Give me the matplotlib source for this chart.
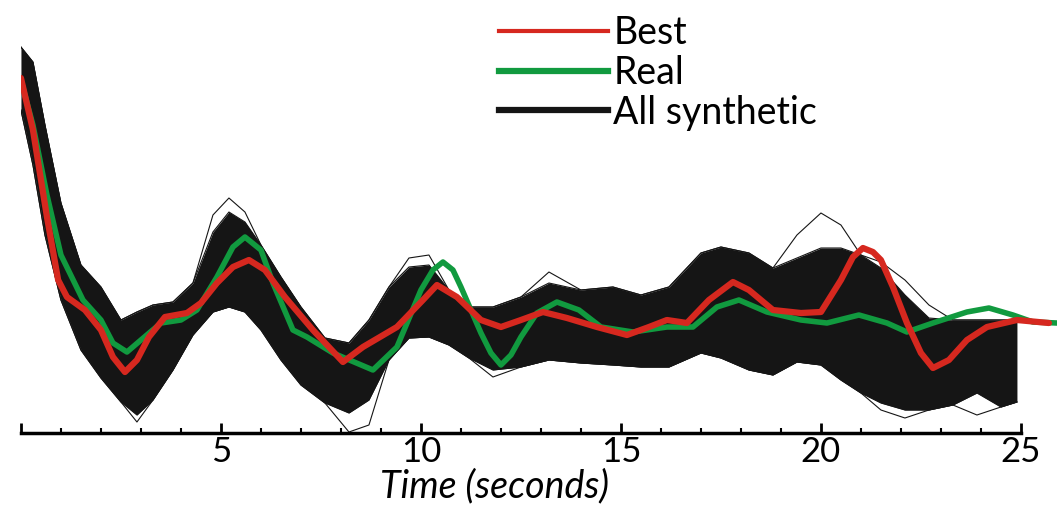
"""Synthetic vs real vs best-fit traces -> out.png"""
import matplotlib
matplotlib.use("Agg")
import matplotlib.pyplot as plt
import matplotlib.ticker as mticker

plt.rcParams["font.family"] = ["Lato", "DejaVu Sans"]

# ── data (amplitude, arbitrary units; time in seconds) ─────────────
best_t = [0, 0.3, 0.65, 0.93, 1.15, 1.6, 2.0, 2.3, 2.6, 2.9,
          3.2, 3.6, 4.15, 4.5, 4.9, 5.3, 5.7, 6.1, 6.6, 7.3,
          8.05, 8.55, 9.4, 10.05, 10.4, 10.9, 11.5, 12.0, 12.5, 13.05,
          13.65, 14.4, 15.15, 15.7, 16.15, 16.65, 17.2, 17.8, 18.2, 18.8,
          19.5, 20.0, 20.5, 20.8, 21.05, 21.3, 21.5, 21.8, 22.15, 22.5,
          22.8, 23.2, 23.65, 24.15, 24.9, 25.7]
best = [355, 303, 216, 153, 136, 123, 103, 76, 61, 73,
        96, 116, 120, 130, 150, 166, 173, 163, 136, 103,
        71, 86, 106, 133, 148, 136, 113, 106, 113, 121,
        115, 106, 98, 106, 113, 110, 133, 151, 143, 123,
        120, 121, 153, 176, 185, 181, 173, 146, 110, 80,
        65, 73, 93, 106, 113, 110]

real_t = [0, 0.3, 0.65, 1.0, 1.55, 2.0, 2.3, 2.65, 3.0, 3.5,
          4.0, 4.4, 4.9, 5.3, 5.6, 6.0, 6.3, 6.8, 7.15, 7.8,
          8.8, 9.4, 10.0, 10.3, 10.55, 10.8, 11.0, 11.5, 11.75, 12.0,
          12.25, 12.5, 12.9, 13.4, 13.95, 14.5, 15.3, 16.15, 16.8, 17.4,
          17.95, 18.65, 19.5, 20.15, 20.95, 21.65, 22.15, 22.8, 23.65, 24.2,
          24.8, 25.3, 25.9]
real = [353, 308, 238, 178, 133, 113, 90, 81, 93, 110,
        113, 123, 156, 186, 196, 183, 150, 103, 96, 80,
        63, 86, 143, 163, 171, 163, 146, 100, 80, 68,
        78, 96, 120, 131, 123, 106, 101, 106, 106, 126,
        133, 121, 113, 110, 118, 110, 101, 110, 121, 125,
        118, 111, 110]

# envelope of all synthetic traces
synth_t = [0, 0.3, 0.6, 1.0, 1.5, 2.0, 2.5, 2.9, 3.3, 3.8,
           4.3, 4.8, 5.2, 5.6, 6.0, 6.5, 7.0, 7.6, 8.2, 8.7,
           9.2, 9.7, 10.2, 10.7, 11.2, 11.8, 12.5, 13.2, 14.0, 14.8,
           15.5, 16.2, 17.0, 17.5, 18.2, 18.8, 19.4, 20.0, 20.5, 21.0,
           21.5, 22.1, 22.7, 23.3, 23.9, 24.5, 24.9]
synth_upper = [386, 371, 308, 230, 168, 146, 113, 121, 128, 131,
               150, 201, 221, 211, 188, 156, 126, 95, 90, 113,
               146, 166, 168, 143, 126, 126, 136, 150, 143, 146,
               138, 146, 180, 186, 180, 165, 175, 185, 185, 178,
               165, 138, 115, 113, 113, 113, 113]
synth_lower = [323, 268, 198, 133, 83, 55, 31, 18, 33, 63,
               98, 121, 126, 121, 103, 73, 48, 30, 20, 33,
               73, 95, 96, 88, 75, 63, 66, 73, 70, 68,
               66, 66, 80, 75, 63, 58, 71, 68, 53, 40,
               30, 23, 23, 28, 40, 26, 31]
# stray synthetic traces poking out of the band
synth_high = [386, 371, 308, 230, 168, 146, 113, 121, 128, 131,
              150, 218, 235, 221, 188, 156, 126, 95, 90, 113,
              146, 175, 178, 143, 126, 126, 136, 161, 143, 146,
              138, 146, 180, 186, 180, 165, 198, 220, 208, 178,
              171, 153, 128, 113, 113, 113, 113]
synth_low = [323, 268, 198, 133, 83, 55, 31, 11, 33, 63,
             98, 121, 126, 121, 103, 73, 48, 30, 1, 8,
             73, 95, 96, 88, 75, 56, 66, 73, 70, 68,
             66, 66, 80, 75, 63, 58, 71, 68, 53, 40,
             23, 15, 23, 28, 18, 26, 31]

major_ticks = [0, 5, 10, 15, 20, 25]
major_labels = ["", "5", "10", "15", "20", "25"]

RED = "#d6281f"
GREEN = "#119a3f"
BLACK = "#151515"

fig = plt.figure(figsize=(10.58, 5.12), dpi=100)
ax = fig.add_axes([0.0198, 0.1543, 0.9792, 0.8066])

ax.fill_between(synth_t, synth_lower, synth_upper, color=BLACK, lw=0)
for trace in (synth_high, synth_low, synth_upper, synth_lower):
    ax.plot(synth_t, trace, color=BLACK, lw=0.8)

ax.plot(real_t, real, color=GREEN, lw=4.0, solid_capstyle="round",
        solid_joinstyle="round", zorder=3)
ax.plot(best_t, best, color=RED, lw=4.5, solid_capstyle="round",
        solid_joinstyle="round", zorder=4)

handles = [
    plt.Line2D([], [], color=RED, lw=3),
    plt.Line2D([], [], color=GREEN, lw=4.5),
    plt.Line2D([], [], color=BLACK, lw=4.5),
]
fig.legend(handles, ["Best", "Real", "All synthetic"],
           loc="upper left", bbox_to_anchor=(0.468, 0.978),
           frameon=False, fontsize=27, handlelength=2.9,
           handletextpad=0.15, labelspacing=0.1, borderpad=0.1,
           borderaxespad=0)

ax.set_xlim(0, 25.9)
ax.set_ylim(0, 413)
for side in ("top", "right", "left"):
    ax.spines[side].set_visible(False)
ax.spines["bottom"].set_linewidth(2.5)
ax.spines["bottom"].set_bounds(0, 25)
ax.set_yticks([])

ax.set_xticks(major_ticks)
ax.set_xticklabels(major_labels)
ax.xaxis.set_minor_locator(mticker.MultipleLocator(1))
ax.tick_params(axis="x", which="major", direction="in", length=7, width=2,
               labelsize=25, pad=2)
ax.tick_params(axis="x", which="minor", direction="in", length=3.5, width=1.5)

ax.set_xlabel("Time (seconds)", fontsize=27, style="italic")
ax.xaxis.set_label_coords(0.4575, -0.085)

fig.savefig("out.png", dpi=100)
